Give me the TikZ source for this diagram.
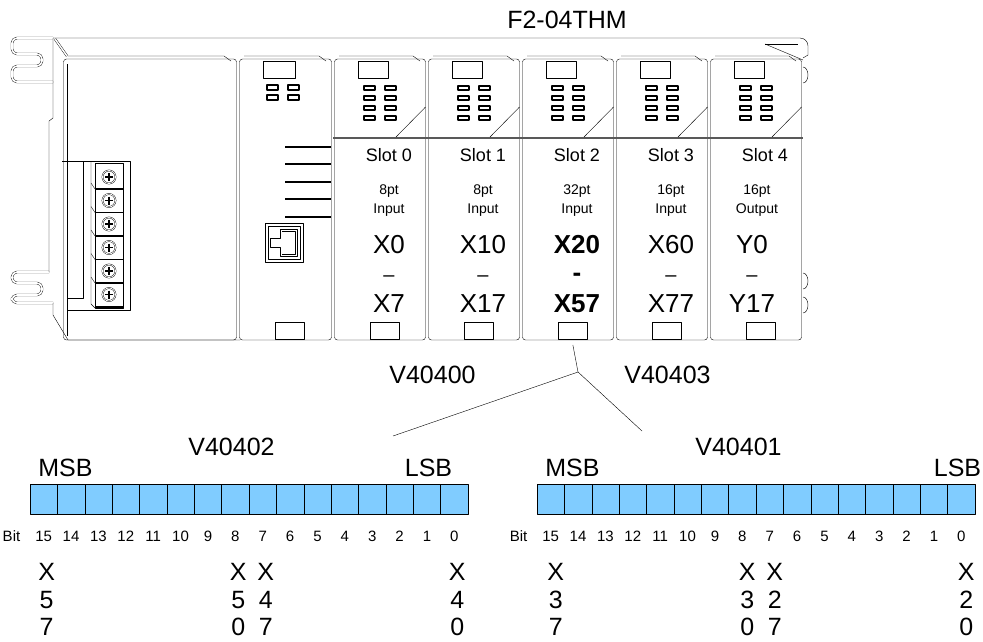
\documentclass[tikz,border=0pt]{standalone}
\usepackage{fontspec}
\setmainfont{Liberation Sans}
\definecolor{cellblue}{RGB}{128,204,255}
\newcommand{\fs}[1]{\fontsize{#1}{#1}\selectfont}

\begin{document}
\begin{tikzpicture}[x=1pt,y=-1pt,line join=round,
    lbl/.style={inner sep=0pt,anchor=base},
    tab/.style={draw,thick,inner sep=0pt,minimum width=29pt,minimum height=17pt,anchor=south west},
    led/.style={line width=1.2pt},
    cell/.style={draw,fill=cellblue}]
\useasboundingbox (0,0) rectangle (983,641);

% Modulname
\node[lbl,font=\fs{25}] (model) at (567,28) {F2-04THM};

% Grundplatte mit Laschen
\draw[rounded corners=8] (53,38) -- (808,38) -- (808,55);
\draw (808,55) -- (803,58);
\draw (765,44) -- (798,44);
\draw (765,44) -- (803,60);
\draw[double,double distance=1.6pt,rounded corners=5] (53,38) -- (12,38) -- (12,54) -- (42,54) -- (42,66) -- (12,66) -- (12,82) -- (53,82);
\draw[double,double distance=1.6pt,rounded corners=5] (49,272) -- (12,272) -- (12,283) -- (42,283) -- (42,295) -- (12,295) -- (12,303) -- (53,303);
\draw (53,38) -- (53,118) -- (49,121) -- (49,272);
\draw (53,303) -- (53,315) -- (68,340) -- (240,340);
\draw[double,double distance=1.5pt] (55,39) -- (67,56);
\draw (803,67) arc[start angle=-90,end angle=90,x radius=5,y radius=8];
\draw (803,273) arc[start angle=-90,end angle=90,x radius=5,y radius=8];
\draw (803,297) arc[start angle=-90,end angle=90,x radius=5,y radius=8];

% Gehaeuse aller Module
\foreach \xl/\xr in {62/238,238/333,333/427,427/521,521/615,615/709,709/803}{
  \draw[rounded corners=3] (\xl+1.5,59) rectangle (\xr-1.5,340);
  \draw (\xl+6,56) -- (\xr-14,56) -- (\xr-7,61);
}

% Netzteil mit Klemmleiste
\draw (67,64) -- (67,336);
\draw (62,161) -- (130,161) -- (130,310) -- (68,310);
\draw (83,161) -- (83,298) -- (68,298);
\draw (91,161) -- (91,304) -- (95,308);
\draw (95,163) rectangle (123,308);
\draw[line width=1.5pt] (95,307) -- (123,307);
\foreach \k in {0,...,5}{
  \draw[double,double distance=0.8pt] (109,{177+23.5*\k}) circle (6.5);
  \draw[line width=1.2pt] ({109-4},{177+23.5*\k}) -- ({109+4},{177+23.5*\k});
  \draw[line width=1.2pt] (109,{177+23.5*\k-4}) -- (109,{177+23.5*\k+4});
}
\foreach \k in {1,...,5}{
  \draw[line width=1.3pt] (95,{165.5+23.5*\k}) -- (123,{165.5+23.5*\k});
  \draw (91,{159.5+23.5*\k}) -- (95,{165.5+23.5*\k});
}

% CPU
\draw[thick] (263,61) rectangle (295,78);
\foreach \r in {0,1}{
  \draw[led] (267,85+10*\r) rectangle (278,90+10*\r);
  \draw[led] (288,85+10*\r) rectangle (299,90+10*\r);
}
\foreach \y in {147,164,182,199,217}
  \draw[line width=1.5pt] (285,\y) -- (331,\y);
\draw (265,223) rectangle (303,262);
\draw (268,226) rectangle (300,259);
\draw (280,229) -- (297,229) -- (297,256) -- (280,256) -- (280,247) -- (270,247) -- (270,238) -- (280,238) -- cycle;
\draw (282,231) -- (295,231) -- (295,254) -- (282,254);
\node[tab] (cpubot) at (275,340) {};

% E/A-Module
\foreach \i/\pts/\kind/\first/\dash/\last/\ox/\oz in {
    0/8pt/Input/X0/{\fs{20}–}/X7/56/56,
    1/8pt/Input/X10/{\fs{20}–}/X17/56/56,
    2/32pt/Input/{\textbf{X20}}/{\textbf{-}}/{\textbf{X57}}/56/56,
    3/16pt/Input/X60/{\fs{20}–}/X77/56/56,
    4/16pt/Output/Y0/{\fs{20}–}/Y17/48/43}{
  \pgfmathsetmacro\xl{333+94*\i}
  \pgfmathsetmacro\xr{\xl+94}
  \draw[thick] (\xl+25,61) rectangle (\xl+55,78);
  \foreach \r in {0,...,3}{
    \draw[led] (\xl+31,86+10*\r) rectangle (\xl+42,90+10*\r);
    \draw[led] (\xl+52,86+10*\r) rectangle (\xl+63,90+10*\r);
  }
  \draw[line width=1.5pt,black!65] (\xl,138) -- (\xr,138);
  \draw (\xl+63,137) -- (\xr-1.5,107);
  \node[lbl,font=\fs{18}] (slot\i) at (\xl+56,161) {Slot \i};
  \node[lbl,font=\fs{14}] (pts\i) at (\xl+\ox,194) {\pts};
  \node[lbl,font=\fs{14}] (kind\i) at (\xl+\ox,213) {\kind};
  \node[lbl,font=\fs{26}] (first\i) at (\xl+\oz,253) {\first};
  \node[lbl,font=\fs{26}] (dash\i) at (\xl+\oz,281) {\dash};
  \node[lbl,font=\fs{26}] (last\i) at (\xl+\oz,312) {\last};
  \node[tab] (bot\i) at (\xl+37,340) {};
}

% V-Speicher der Module
\node[lbl,font=\fs{25}] (vlow) at (432.5,383) {V40400};
\node[lbl,font=\fs{25}] (vhigh) at (667.5,383) {V40403};

% Verbindung zu den Registern
\coordinate (split) at (578,372);
\coordinate (toleft) at (393,436);
\coordinate (toright) at (642,431);
\draw ([yshift=-5pt]bot2.south) -- (split);
\draw (split) -- (toleft);
\draw (split) -- (toright);

% Register
\foreach \x/\name/\hi/\lo/\lsb/\dx in {30/V40402/5/4/398.5/3, 537/V40401/3/2/420.5/5}{
  \foreach \b in {0,...,15}{
    \pgfmathtruncatemacro\n{15-\b}
    \draw[cell] (\x+27.375*\b,484) rectangle ++(27.375,30);
    \node[lbl,font=\fs{15}] (bit\x-\n) at (\x+27.375*\b+13.7,541) {\n};
  }
  \node[lbl,font=\fs{15}] (bitlbl\x) at (\x-18.5,541) {Bit};
  \node[lbl,font=\fs{25}] (msb\x) at (\x+35.5,476) {MSB};
  \node[lbl,font=\fs{25}] (lsb\x) at (\x+\lsb,476) {LSB};
  \node[lbl,font=\fs{25}] (reg\x) at (\x+201.5,455) {\name};
  \foreach \b/\d/\e in {15/\hi/7, 8/\hi/0, 7/\lo/7, 0/\lo/0}{
    \node[lbl,font=\fs{25}] (xa\x-\b) at (\x+27.375*15-27.375*\b+13.7+\dx,580) {X};
    \node[lbl,font=\fs{25}] (xb\x-\b) at (\x+27.375*15-27.375*\b+13.7+\dx,608) {\d};
    \node[lbl,font=\fs{25}] (xc\x-\b) at (\x+27.375*15-27.375*\b+13.7+\dx,635) {\e};
  }
}
\end{tikzpicture}
\end{document}
